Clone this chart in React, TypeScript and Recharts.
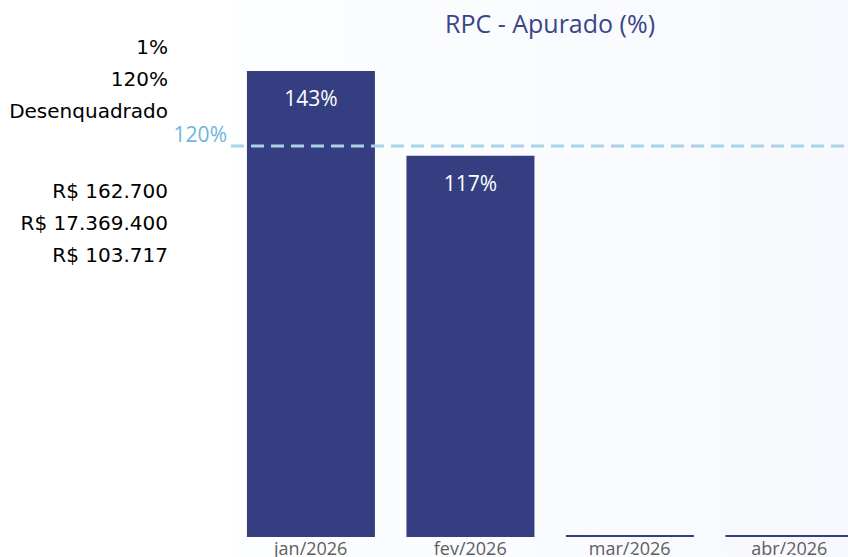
import React from 'react';
import { BarChart, Bar, XAxis, YAxis, ReferenceLine, LabelList } from 'recharts';

const months = ['jan/2026', 'fev/2026', 'mar/2026', 'abr/2026'];
const apurado = [143, 117, 0.6, 0.6];
const apuradoLabels = ['143%', '117%', '1%', '0%'];
const limite = 120;
const limiteLabel = '120%';
const infoTop = ['1%', '120%', 'Desenquadrado'];
const infoBottom = ['R$ 162.700', 'R$ 17.369.400', 'R$ 103.717'];

const data = months.map((m, i) => ({ month: m, value: apurado[i], label: apuradoLabels[i] }));

const sans = '"Open Sans", "Noto Sans", sans-serif';

const RefLabel = (props: any) => {
  const { viewBox } = props;
  return (
    <text x={viewBox.x - 4} y={viewBox.y - 4} textAnchor="end" fill="#6cb6db" fontSize={21} fontFamily={sans}>
      {limiteLabel}
    </text>
  );
};

export default function App() {
  return (
    <div style={{ position: 'absolute', left: 0, top: 0, width: 848, height: 557, overflow: 'hidden', background: '#fff' }}>
      <div style={{ position: 'absolute', left: 0, top: 0 }}>
        <BarChart width={880} height={557} data={data} margin={{ top: 71, right: 11, left: 231, bottom: 0 }} barCategoryGap="10%">
          <defs>
            <linearGradient id="bgGrad" x1="0" y1="0" x2="1" y2="0">
              <stop offset="0%" stopColor="#fdfeff" />
              <stop offset="100%" stopColor="#f6f8fd" />
            </linearGradient>
          </defs>
          <rect x={231} y={0} width={649} height={557} fill="url(#bgGrad)" />
          <XAxis
            dataKey="month"
            axisLine={false}
            tickLine={false}
            tickSize={0}
            tickMargin={5}
            height={20}
            tick={{ fill: '#605e5c', fontSize: 18, fontFamily: sans }}
          />
          <YAxis hide domain={[0, 143]} />
          <Bar dataKey="value" fill="#353e80" isAnimationActive={false}>
            <LabelList dataKey="label" position="insideTop" offset={20} fill="#ffffff" fontSize={21} fontFamily={sans} />
          </Bar>
          <ReferenceLine y={limite} stroke="#a9d3e6" strokeWidth={3} strokeDasharray="13 7" label={<RefLabel />} />
        </BarChart>
      </div>
      <div style={{ position: 'absolute', left: 380, width: 340, top: 6, textAlign: 'center', fontFamily: sans, fontSize: 25, color: '#3a4589' }}>
        RPC - Apurado (%)
      </div>
      <div style={{ position: 'absolute', right: 848 - 168, top: 31, textAlign: 'right', fontFamily: '"DejaVu Sans", sans-serif', fontSize: 20, lineHeight: '32px', color: '#000', whiteSpace: 'nowrap' }}>
        {infoTop.map((t) => (
          <div key={t}>{t}</div>
        ))}
        <div style={{ height: 48 }} />
        {infoBottom.map((t) => (
          <div key={t}>{t}</div>
        ))}
      </div>
    </div>
  );
}
